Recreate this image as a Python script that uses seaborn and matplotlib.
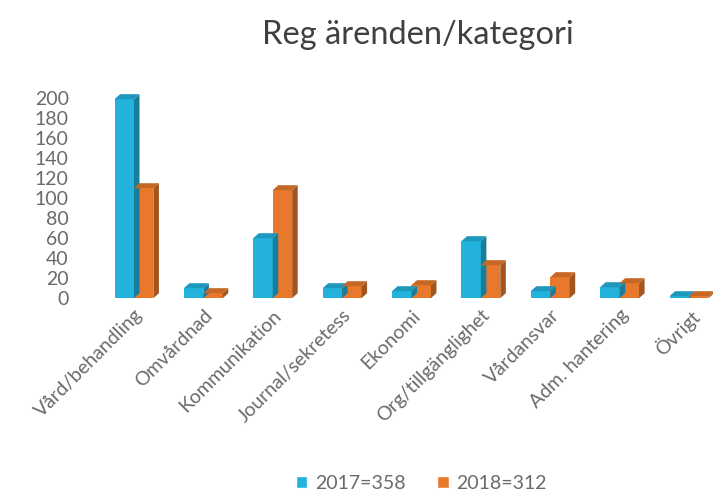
import matplotlib

matplotlib.use("Agg")
import matplotlib.pyplot as plt
import pandas as pd
import seaborn as sns
from matplotlib.colors import to_rgb
from matplotlib.patches import Patch, Polygon

categories = [
    "Vård/behandling",
    "Omvårdnad",
    "Kommunikation",
    "Journal/sekretess",
    "Ekonomi",
    "Org/tillgänglighet",
    "Vårdansvar",
    "Adm. hantering",
    "Övrigt",
]
values_2017 = [199, 10, 60, 10, 7, 57, 7, 11, 2]
values_2018 = [110, 5, 108, 12, 13, 33, 21, 15, 2]
series_labels = ["2017=358", "2018=312"]
y_ticks = list(range(0, 201, 20))

blue = "#22b2dc"
orange = "#e8792c"
text_gray = "#6a6a6a"

df = pd.DataFrame(
    {
        "kategori": categories * 2,
        "antal": values_2017 + values_2018,
        "serie": [series_labels[0]] * len(categories) + [series_labels[1]] * len(categories),
    }
)

sns.set_theme(style="white")
plt.rcParams["font.family"] = ["Lato", "DejaVu Sans"]

fig = plt.figure(figsize=(7.14, 4.97), dpi=100)
ax = fig.add_axes([0.139, 0.40, 0.86, 0.4125])

sns.barplot(
    data=df,
    x="kategori",
    y="antal",
    hue="serie",
    palette=[blue, orange],
    width=0.56,
    saturation=1,
    linewidth=0,
    legend=False,
    ax=ax,
)


def darker(c, f):
    r, g, b = to_rgb(c)
    return (r * f, g * f, b * f)


# fake 3D depth: side and top faces from each bar's geometry
dx, dy = 0.08, 5
for bar in list(ax.patches):
    x0, w, h = bar.get_x(), bar.get_width(), bar.get_height()
    col = bar.get_facecolor()
    side = Polygon(
        [(x0 + w, 0), (x0 + w + dx, dy), (x0 + w + dx, h + dy), (x0 + w, h)],
        closed=True, facecolor=darker(col, 0.7), edgecolor="none", zorder=1,
    )
    top = Polygon(
        [(x0, h), (x0 + dx, h + dy), (x0 + w + dx, h + dy), (x0 + w, h)],
        closed=True, facecolor=darker(col, 0.85), edgecolor="none", zorder=1,
    )
    ax.add_patch(side)
    ax.add_patch(top)

ax.set_xlim(-0.5, 8.35)
ax.set_ylim(0, 205)
ax.set_yticks(y_ticks)
ax.tick_params(axis="y", labelsize=14, labelcolor=text_gray, length=0, pad=22)
ax.tick_params(axis="x", labelsize=14, labelcolor=text_gray, length=0, pad=6)
plt.setp(ax.get_xticklabels(), rotation=45, ha="right", rotation_mode="anchor")
ax.set_xlabel("")
ax.set_ylabel("")
sns.despine(ax=ax, left=True, bottom=True)

fig.text(0.585, 0.93, "Reg ärenden/kategori", ha="center", va="center",
         fontsize=23.5, color="#404040")

handles = [Patch(facecolor=blue, label=series_labels[0]),
           Patch(facecolor=orange, label=series_labels[1])]
fig.legend(
    handles=handles,
    loc="center",
    bbox_to_anchor=(0.59, 0.028),
    ncol=2,
    frameon=False,
    fontsize=14,
    labelcolor=text_gray,
    handlelength=0.6,
    handleheight=0.6,
    handletextpad=0.4,
    columnspacing=1.6,
)

fig.savefig("out.png", dpi=100)
